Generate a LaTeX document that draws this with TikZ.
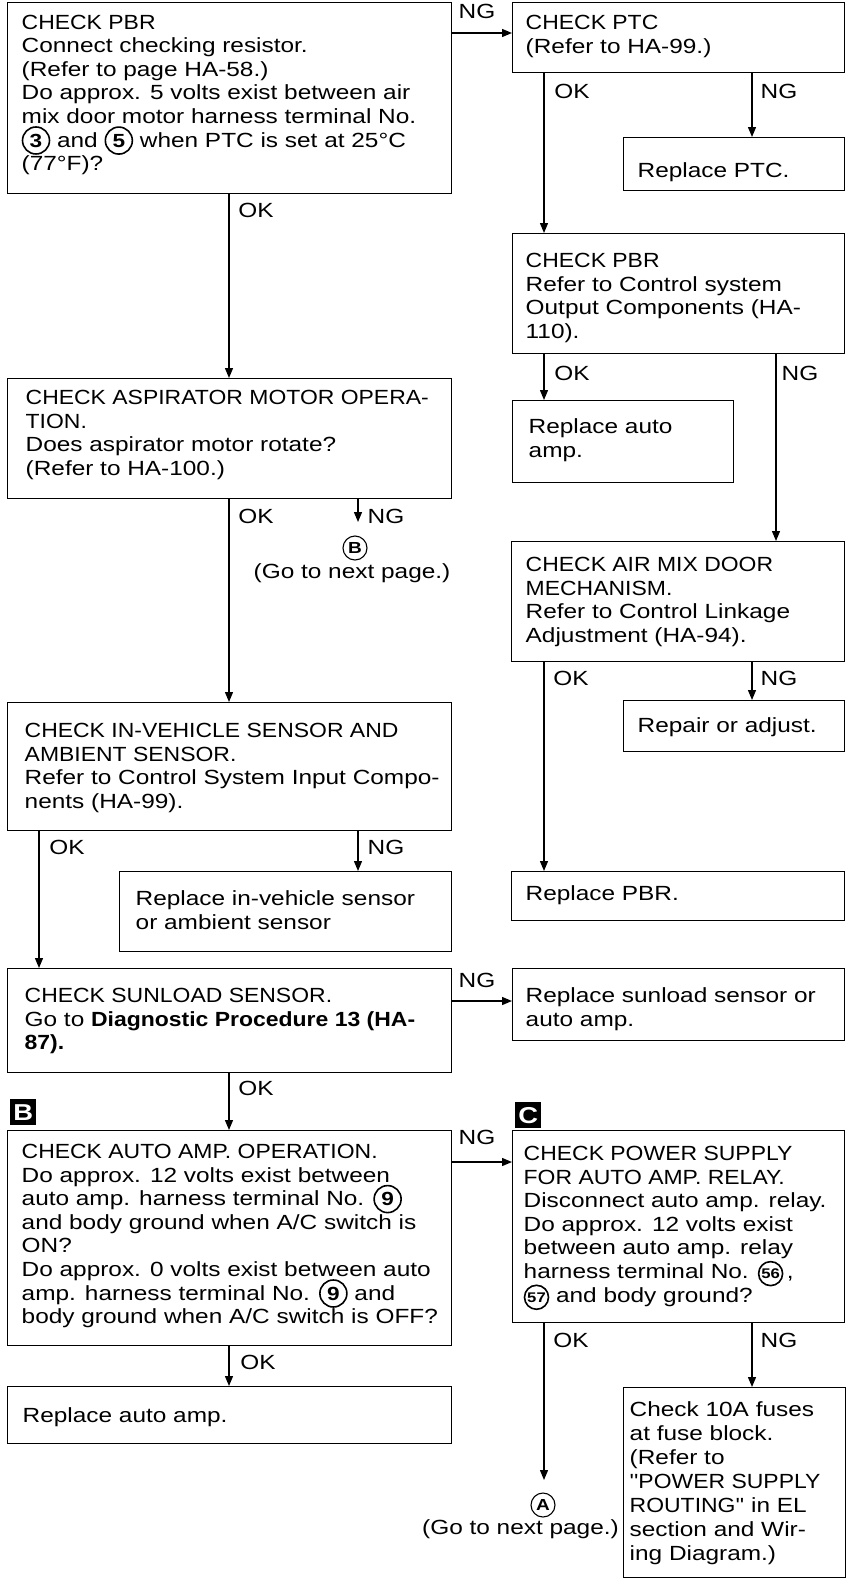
\documentclass[tikz,border=0pt]{standalone}
\usepackage{fontspec}
\setmainfont{Liberation Sans}[FakeStretch=1.19]
\newfontfamily\cf{Liberation Sans}[FakeStretch=1.12]
\usetikzlibrary{arrows.meta}

% box text: width, height, top pad, left pad, text
\newcommand\bt[5]{\parbox[c][#2][t]{#1}{\vspace*{#3}\raggedright\leftskip=#4\relax\rightskip=-60pt plus 1fil\relax\strut #5}}
% inline circled number: [digit size]{radius}{text}
\newcommand\cnum[3][19]{\smash{\tikz[baseline=(cc.base)]{\node[inner sep=0pt,font=\fontsize{#1}{#1}\selectfont\bfseries](cc){#3};\draw[line width=1.6pt](cc.center) circle[radius=#2];}}}

\tikzset{
  box/.style={draw, line width=1.4pt, inner sep=0pt, anchor=north west, rectangle},
  arr/.style={line width=1.3pt, -{Triangle[length=10pt,width=8pt]}},
  lab/.style={inner sep=0pt},
  circ/.style={draw, circle, line width=1.1pt, inner sep=0pt, minimum size=24pt, font=\fontsize{16}{16}\selectfont\bfseries},
  tag/.style={fill=black, text=white, inner sep=0pt, minimum size=26pt, anchor=north west, font=\fontsize{23}{23}\selectfont\bfseries},
}

\begin{document}
\begin{tikzpicture}[x=1pt,y=-1pt,font=\fontsize{20.5}{23.6}\selectfont]
\useasboundingbox (0,0) rectangle (846,1579);

% ---- boxes, left column
\node[box] (b1) at (7,2) {\bt{444pt}{191pt}{9.8pt}{14pt}{{\cf CHECK PBR}\\Connect checking resistor.\\(Refer to page HA-58.)\\Do approx. 5 volts exist between air\\mix door motor harness terminal No.\\\cnum{13.5pt}{3} and \cnum{13.5pt}{5} when PTC is set at 25°C\\(77°F)?}};
\node[box] (asp) at (7,378) {\bt{444pt}{120pt}{9.2pt}{18pt}{{\cf CHECK ASPIRATOR MOTOR OPERA-}\\{\cf TION.}\\Does aspirator motor rotate?\\(Refer to HA-100.)}};
\node[box] (inveh) at (7,702) {\bt{444pt}{128pt}{18.2pt}{17pt}{{\cf CHECK IN-VEHICLE SENSOR AND}\\{\cf AMBIENT SENSOR.}\\Refer to Control System Input Compo-\\nents (HA-99).}};
\node[box] (rinveh) at (119,871) {\bt{332pt}{80pt}{17.2pt}{16pt}{Replace in-vehicle sensor\\or ambient sensor}};
\node[box] (sun) at (7,968) {\bt{444pt}{104pt}{17.2pt}{17pt}{{\cf CHECK SUNLOAD SENSOR.}\\Go to {\cf\bfseries Diagnostic Procedure 13 (HA-}\\{\cf\bfseries 87).}}};
\node[box] (amp) at (7,1130) {\bt{444pt}{215pt}{11.2pt}{14pt}{{\cf CHECK AUTO AMP. OPERATION.}\\Do approx. 12 volts exist between\\auto amp. harness terminal No. \cnum{13.5pt}{9}\\and body ground when A/C switch is\\ON?\\Do approx. 0 volts exist between auto\\amp. harness terminal No. \cnum{13.5pt}{9} and\\body ground when A/C switch is OFF?}};
\node[box] (ramp2) at (7,1386) {\bt{444pt}{57pt}{19.2pt}{15pt}{Replace auto amp.}};

% ---- boxes, right column
\node[box] (ptc) at (512,2) {\bt{332pt}{70pt}{10.5pt}{13pt}{{\cf CHECK PTC}\\(Refer to HA-99.)}};
\node[box] (rptc) at (623,137) {\bt{221pt}{53pt}{23.5pt}{14pt}{Replace PTC.}};
\node[box] (pbr2) at (512,233) {\bt{332pt}{120pt}{17.2pt}{13pt}{{\cf CHECK PBR}\\Refer to Control system\\Output Components (HA-\\110).}};
\node[box] (ramp1) at (512,400) {\bt{221pt}{82pt}{16.2pt}{16pt}{Replace auto\\amp.}};
\node[box] (airmix) at (511,541) {\bt{333pt}{120pt}{13.2pt}{14pt}{{\cf CHECK AIR MIX DOOR}\\{\cf MECHANISM.}\\Refer to Control Linkage\\Adjustment (HA-94).}};
\node[box] (repair) at (623,700) {\bt{221pt}{51pt}{15.2pt}{14pt}{Repair or adjust.}};
\node[box] (rpbr) at (511,871) {\bt{333pt}{49pt}{12.2pt}{14pt}{Replace PBR.}};
\node[box] (rsun) at (512,968) {\bt{332pt}{72pt}{17.2pt}{13pt}{Replace sunload sensor or\\auto amp.}};
\node[box] (pwr) at (512,1130) {\bt{332pt}{192pt}{13.2pt}{11pt}{{\cf CHECK POWER SUPPLY}\\{\cf FOR AUTO AMP. RELAY.}\\Disconnect auto amp. relay.\\Do approx. 12 volts exist\\between auto amp. relay\\harness terminal No. \cnum[14]{12pt}{56}\,,\\\cnum[14]{12pt}{57} and body ground?}};
\node[box] (fuse) at (623,1387) {\bt{222pt}{190pt}{12pt}{6pt}{\baselineskip=24pt Check 10A fuses\\at fuse block.\\(Refer to\\{\cf ''POWER SUPPLY}\\{\cf ROUTING''} in EL\\section and Wir-\\ing Diagram.)}};

% ---- tags
\node[tag] (tagB) at (10,1099) {B};
\node[tag] (tagC) at (515,1102) {C};

% ---- helper coordinates
\coordinate (xa) at (229,0);
\coordinate (xb) at (358,0);
\coordinate (xc) at (39,0);
\coordinate (xd) at (544,0);
\coordinate (xe) at (752,0);
\coordinate (xf) at (776,0);
\coordinate (y1) at (0,33);
\coordinate (y2) at (0,1001);
\coordinate (y3) at (0,1162);
\coordinate (gB) at (358,522);
\coordinate (gA) at (544,1480);

% ---- connectors
\draw[arr] (b1.east |- y1) -- (ptc.west |- y1);
\draw[arr] (xa |- b1.south) -- (xa |- asp.north);
\draw[arr] (xd |- ptc.south) -- (xd |- pbr2.north);
\draw[arr] (xe |- ptc.south) -- (xe |- rptc.north);
\draw[arr] (xd |- pbr2.south) -- (xd |- ramp1.north);
\draw[arr] (xf |- pbr2.south) -- (xf |- airmix.north);
\draw[arr] (xd |- airmix.south) -- (xd |- rpbr.north);
\draw[arr] (xe |- airmix.south) -- (xe |- repair.north);
\draw[arr] (xa |- asp.south) -- (xa |- inveh.north);
\draw[arr] (xb |- asp.south) -- (gB);
\draw[arr] (xc |- inveh.south) -- (xc |- sun.north);
\draw[arr] (xb |- inveh.south) -- (xb |- rinveh.north);
\draw[arr] (sun.east |- y2) -- (rsun.west |- y2);
\draw[arr] (xa |- sun.south) -- (xa |- amp.north);
\draw[arr] (amp.east |- y3) -- (pwr.west |- y3);
\draw[arr] (xa |- amp.south) -- (xa |- ramp2.north);
\draw[arr] (xd |- pwr.south) -- (gA);
\draw[arr] (xe |- pwr.south) -- (xe |- fuse.north);

% ---- labels
\node[lab] (l1) at (477,11) {NG};
\node[lab] (l2) at (256,210) {OK};
\node[lab] (l3) at (572,91) {OK};
\node[lab] (l4) at (779,91) {NG};
\node[lab] (l5) at (572,373) {OK};
\node[lab] (l6) at (800,373) {NG};
\node[lab] (l7) at (571,678) {OK};
\node[lab] (l8) at (779,678) {NG};
\node[lab] (l9) at (256,516) {OK};
\node[lab] (l10) at (386,516) {NG};
\node[circ] (cB) at (355,548) {B};
\node[lab] (gt1) at (352,573) {(Go to next page.)};
\node[lab] (l11) at (67,847) {OK};
\node[lab] (l12) at (386,847) {NG};
\node[lab] (l13) at (477,980) {NG};
\node[lab] (l14) at (256,1088) {OK};
\node[lab] (l15) at (477,1137) {NG};
\node[lab] (l16) at (258,1362) {OK};
\node[lab] (l17) at (571,1340) {OK};
\node[lab] (l18) at (779,1340) {NG};
\node[circ] (cA) at (543,1505) {A};
\node[lab, anchor=east] (gt2) at (619,1529) {(Go to next page.)};
\end{tikzpicture}
\end{document}
